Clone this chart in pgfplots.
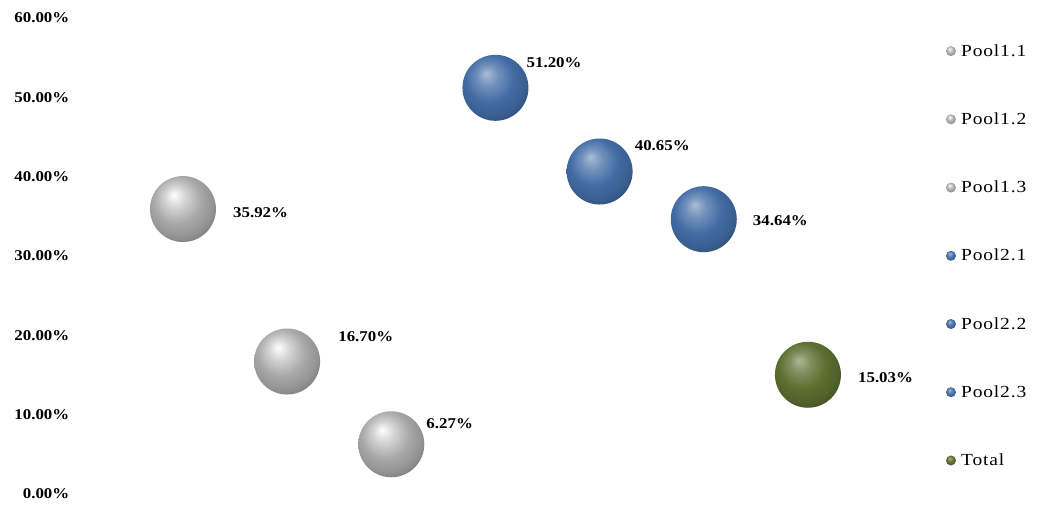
\documentclass[border=0pt]{standalone}
\usepackage{pgfplots}
\pgfplotsset{compat=1.18}
\usepackage{fontspec}
\setmainfont{Liberation Serif}
\newfontfamily\numfont[FakeStretch=1.13]{Liberation Serif}
\newfontfamily\legfont[FakeStretch=1.15,LetterSpace=5]{Liberation Serif}
\definecolor{cgray}{RGB}{168,168,168}
\definecolor{cblue}{RGB}{66,108,165}
\definecolor{cgreen}{RGB}{92,110,48}
\pgfdeclareradialshading{sphgray}{\pgfqpoint{-7bp}{11bp}}{%
  color(0bp)=(white); color(8bp)=(cgray!50!white); color(18bp)=(cgray);
  color(26bp)=(cgray!88!black); color(33bp)=(cgray!70!black); color(40bp)=(cgray!55!black); color(50bp)=(cgray!45!black)}
\pgfdeclareradialshading{sphblue}{\pgfqpoint{-7bp}{11bp}}{%
  color(0bp)=(cblue!45!white); color(8bp)=(cblue!75!white); color(18bp)=(cblue);
  color(26bp)=(cblue!88!black); color(33bp)=(cblue!70!black); color(40bp)=(cblue!52!black); color(50bp)=(cblue!42!black)}
\pgfdeclareradialshading{sphgreen}{\pgfqpoint{-7bp}{11bp}}{%
  color(0bp)=(cgreen!50!white); color(8bp)=(cgreen!78!white); color(18bp)=(cgreen);
  color(26bp)=(cgreen!88!black); color(33bp)=(cgreen!68!black); color(40bp)=(cgreen!50!black); color(50bp)=(cgreen!40!black)}
\pgfdeclareplotmark{sphgray}{\pgfpathcircle{\pgfpointorigin}{\pgfplotmarksize}\pgfshadepath{sphgray}{0}\pgfusepath{discard}}
\pgfdeclareplotmark{sphblue}{\pgfpathcircle{\pgfpointorigin}{\pgfplotmarksize}\pgfshadepath{sphblue}{0}\pgfusepath{discard}}
\pgfdeclareplotmark{sphgreen}{\pgfpathcircle{\pgfpointorigin}{\pgfplotmarksize}\pgfshadepath{sphgreen}{0}\pgfusepath{discard}}
\begin{document}
\begin{tikzpicture}
\useasboundingbox (0bp,0bp) rectangle (1037bp,505bp);
\begin{axis}[
  at={(78.8bp,11bp)}, anchor=south west,
  scale only axis, width=833.3bp, height=476bp,
  xmin=0, xmax=8, ymin=0, ymax=60,
  axis line style={draw=none},
  xtick=\empty, ytick={0,10,...,60},
  major tick length=0pt,
  /pgf/number format/assume math mode=true,
  yticklabel={\pgfmathprintnumber[fixed,fixed zerofill,precision=2]{\tick}\%},
  yticklabel style={font=\numfont\bfseries\fontsize{15}{18}\selectfont, anchor=east, xshift=-6bp},
  clip=false,
  every axis plot/.append style={only marks, mark size=33bp},
  point meta=y,
  nodes near coords={\pgfmathprintnumber[fixed,fixed zerofill,precision=2]{\pgfplotspointmeta}\%},
  every node near coord/.append style={font=\numfont\bfseries\fontsize{15}{18}\selectfont, anchor=west, inner sep=0pt, text=black},
  legend image code/.code={\draw[#1, mark size=5bp] plot coordinates {(0bp,0bp)}; \path (8bp,0bp);},
  legend style={at={(1.0404,0.949)}, anchor=north west, draw=none, fill=none,
    font=\legfont\fontsize{17}{20}\selectfont, row sep=51bp, inner sep=0pt},
  legend cell align=left,
]
\addplot[mark=sphgray, every node near coord/.append style={xshift=50bp, yshift=-4bp}] coordinates {(1,35.92)};
\addlegendentry{Pool1.1}
\addplot[mark=sphgray, every node near coord/.append style={xshift=51bp, yshift=25bp}] coordinates {(2,16.70)};
\addlegendentry{Pool1.2}
\addplot[mark=sphgray, every node near coord/.append style={xshift=35bp, yshift=21bp}] coordinates {(3,6.27)};
\addlegendentry{Pool1.3}
\addplot[mark=sphblue, every node near coord/.append style={xshift=31bp, yshift=25bp}] coordinates {(4,51.20)};
\addlegendentry{Pool2.1}
\addplot[mark=sphblue, every node near coord/.append style={xshift=35bp, yshift=26bp}] coordinates {(5,40.65)};
\addlegendentry{Pool2.2}
\addplot[mark=sphblue, every node near coord/.append style={xshift=49bp, yshift=-1bp}] coordinates {(6,34.64)};
\addlegendentry{Pool2.3}
\addplot[mark=sphgreen, every node near coord/.append style={xshift=50bp, yshift=-3bp}] coordinates {(7,15.03)};
\addlegendentry{Total}
\end{axis}
\end{tikzpicture}
\end{document}
